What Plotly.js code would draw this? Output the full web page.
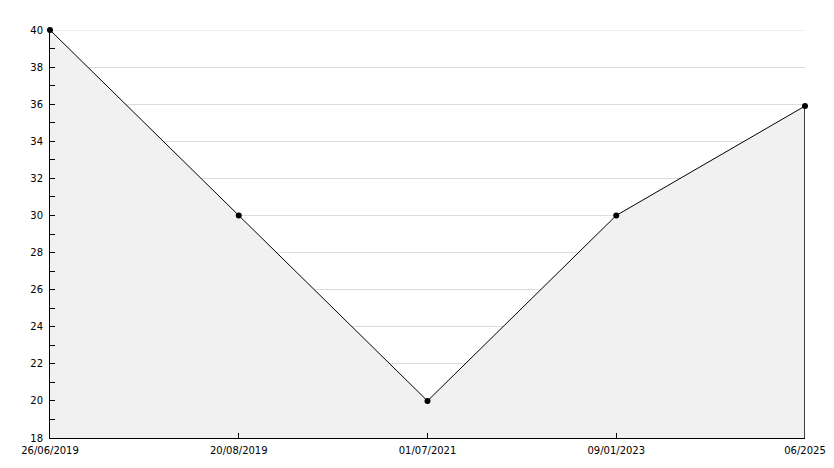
<!DOCTYPE html>
<html><head><meta charset="utf-8">
<script src="https://cdn.plot.ly/plotly-3.0.1.min.js"></script>
<style>body{margin:0;padding:0;background:#fff}#chart{width:834px;height:468px}</style>
</head><body><div id="chart"></div>
<script>
const categories = ["26/06/2019", "20/08/2019", "01/07/2021", "09/01/2023", "06/2025"];
const values = [40, 30, 20, 30, 35.9];
const yTicks = [18, 20, 22, 24, 26, 28, 30, 32, 34, 36, 38, 40];

const trace = {
  x: categories, y: values, type: 'scatter', mode: 'lines+markers',
  fill: 'tozeroy', fillcolor: '#f1f1f1',
  line: {color: '#000', width: 1},
  marker: {color: '#000', size: 6, symbol: 'circle'},
  cliponaxis: false, hoverinfo: 'none'
};
const layout = {
  width: 834, height: 468,
  margin: {l: 50, r: 29, t: 30, b: 30},
  paper_bgcolor: '#fff', plot_bgcolor: '#fff',
  showlegend: false,
  font: {family: 'DejaVu Sans', size: 10, color: '#000'},
  xaxis: {
    type: 'category', range: [0, categories.length - 1],
    showgrid: false, zeroline: false,
    showline: true, linecolor: '#000', linewidth: 1,
    ticks: 'inside', ticklen: 5, tickcolor: '#000', ticklabelstandoff: 3,
    tickfont: {family: 'DejaVu Sans', size: 10, color: '#000'}
  },
  yaxis: {
    range: [18, 40], tickvals: yTicks, ticktext: yTicks.map(String),
    showgrid: true, gridcolor: '#dcdcdc', gridwidth: 1, zeroline: false,
    showline: true, linecolor: '#000', linewidth: 1,
    ticks: 'inside', ticklen: 5, tickcolor: '#000', ticklabelstandoff: 4,
    minor: {dtick: 1, tick0: 18, ticks: 'inside', ticklen: 5, tickcolor: '#000', showgrid: false},
    tickfont: {family: 'DejaVu Sans', size: 10, color: '#000'}
  },
  shapes: [{
    type: 'line', xref: 'paper', yref: 'y', layer: 'below',
    x0: 0, x1: 1, y0: yTicks[yTicks.length - 1], y1: yTicks[yTicks.length - 1],
    line: {color: '#dcdcdc', width: 1}
  }, {
    type: 'line', xref: 'x', yref: 'y',
    x0: categories[categories.length - 1], x1: categories[categories.length - 1],
    y0: 18, y1: values[values.length - 1],
    line: {color: '#000', width: 1.5}
  }]
};
Plotly.newPlot('chart', [trace], layout, {staticPlot: true, displayModeBar: false});
</script></body></html>
